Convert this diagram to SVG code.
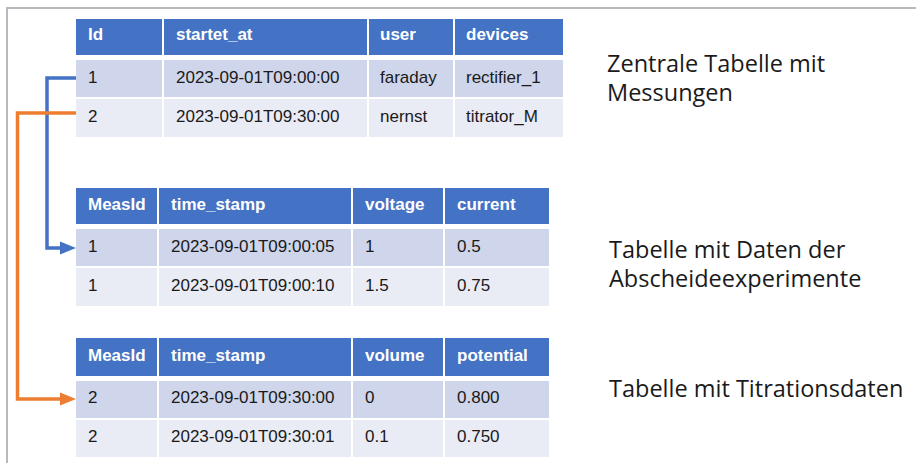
<svg xmlns="http://www.w3.org/2000/svg" width="916" height="463" viewBox="0 0 916 463">
  <defs>
    <style>
      .hd { fill: #4472c4; }
      .r1 { fill: #cfd5ea; }
      .r2 { fill: #e9ebf5; }
      .ht { font-family: "Liberation Sans", Arial, sans-serif; font-size: 17px; font-weight: bold; fill: #ffffff; }
      .dt { font-family: "Liberation Sans", Arial, sans-serif; font-size: 17px; fill: #1a1a1a; }
      .lbl { font-family: "Open Sans", "Noto Sans", sans-serif; font-size: 23.5px; fill: #1a1a1a; }
      .frame { fill: none; stroke: #b6babe; stroke-width: 2; }
      .link { fill: none; stroke-width: 3.5; stroke-linejoin: miter; }
    </style>
  </defs>

  <rect width="916" height="463" fill="#ffffff"/>
  <!-- outer frame: top and left edges -->
  <path class="frame" d="M7,463 L7,8 L916,8"/>

  <!-- central measurement table -->
  <g id="table-measurements">
    <rect class="hd" x="76" y="19" width="86" height="36"/>
    <rect class="hd" x="164" y="19" width="203" height="36"/>
    <rect class="hd" x="369" y="19" width="84" height="36"/>
    <rect class="hd" x="455" y="19" width="108" height="36"/>
    <rect class="r1" x="76" y="60" width="86" height="37"/>
    <rect class="r1" x="164" y="60" width="203" height="37"/>
    <rect class="r1" x="369" y="60" width="84" height="37"/>
    <rect class="r1" x="455" y="60" width="108" height="37"/>
    <rect class="r2" x="76" y="99" width="86" height="38"/>
    <rect class="r2" x="164" y="99" width="203" height="38"/>
    <rect class="r2" x="369" y="99" width="84" height="38"/>
    <rect class="r2" x="455" y="99" width="108" height="38"/>
    <text class="ht" x="88" y="40">Id</text>
    <text class="ht" x="176" y="40">startet_at</text>
    <text class="ht" x="380" y="40">user</text>
    <text class="ht" x="466" y="40">devices</text>
    <text class="dt" x="88" y="83">1</text>
    <text class="dt" x="176" y="83">2023-09-01T09:00:00</text>
    <text class="dt" x="380" y="83">faraday</text>
    <text class="dt" x="466" y="83">rectifier_1</text>
    <text class="dt" x="88" y="122">2</text>
    <text class="dt" x="176" y="122">2023-09-01T09:30:00</text>
    <text class="dt" x="380" y="122">nernst</text>
    <text class="dt" x="466" y="122">titrator_M</text>
  </g>

  <!-- deposition experiment data -->
  <g id="table-deposition">
    <rect class="hd" x="76" y="188" width="81" height="36"/>
    <rect class="hd" x="159" y="188" width="192" height="36"/>
    <rect class="hd" x="353" y="188" width="90" height="36"/>
    <rect class="hd" x="445" y="188" width="104" height="36"/>
    <rect class="r1" x="76" y="229" width="81" height="37"/>
    <rect class="r1" x="159" y="229" width="192" height="37"/>
    <rect class="r1" x="353" y="229" width="90" height="37"/>
    <rect class="r1" x="445" y="229" width="104" height="37"/>
    <rect class="r2" x="76" y="268" width="81" height="38"/>
    <rect class="r2" x="159" y="268" width="192" height="38"/>
    <rect class="r2" x="353" y="268" width="90" height="38"/>
    <rect class="r2" x="445" y="268" width="104" height="38"/>
    <text class="ht" x="88" y="210">MeasId</text>
    <text class="ht" x="171" y="210">time_stamp</text>
    <text class="ht" x="365" y="210">voltage</text>
    <text class="ht" x="457" y="210">current</text>
    <text class="dt" x="88" y="252">1</text>
    <text class="dt" x="171" y="252">2023-09-01T09:00:05</text>
    <text class="dt" x="365" y="252">1</text>
    <text class="dt" x="457" y="252">0.5</text>
    <text class="dt" x="88" y="291">1</text>
    <text class="dt" x="171" y="291">2023-09-01T09:00:10</text>
    <text class="dt" x="365" y="291">1.5</text>
    <text class="dt" x="457" y="291">0.75</text>
  </g>

  <!-- titration data -->
  <g id="table-titration">
    <rect class="hd" x="76" y="338" width="81" height="38"/>
    <rect class="hd" x="159" y="338" width="192" height="38"/>
    <rect class="hd" x="353" y="338" width="90" height="38"/>
    <rect class="hd" x="445" y="338" width="104" height="38"/>
    <rect class="r1" x="76" y="381" width="81" height="37"/>
    <rect class="r1" x="159" y="381" width="192" height="37"/>
    <rect class="r1" x="353" y="381" width="90" height="37"/>
    <rect class="r1" x="445" y="381" width="104" height="37"/>
    <rect class="r2" x="76" y="420" width="81" height="37"/>
    <rect class="r2" x="159" y="420" width="192" height="37"/>
    <rect class="r2" x="353" y="420" width="90" height="37"/>
    <rect class="r2" x="445" y="420" width="104" height="37"/>
    <text class="ht" x="88" y="361">MeasId</text>
    <text class="ht" x="171" y="361">time_stamp</text>
    <text class="ht" x="365" y="361">volume</text>
    <text class="ht" x="457" y="361">potential</text>
    <text class="dt" x="88" y="403">2</text>
    <text class="dt" x="171" y="403">2023-09-01T09:30:00</text>
    <text class="dt" x="365" y="403">0</text>
    <text class="dt" x="457" y="403">0.800</text>
    <text class="dt" x="88" y="442">2</text>
    <text class="dt" x="171" y="442">2023-09-01T09:30:01</text>
    <text class="dt" x="365" y="442">0.1</text>
    <text class="dt" x="457" y="442">0.750</text>
  </g>

  <!-- foreign-key links from the central table -->
  <g id="connectors">
    <path class="link" stroke="#4472c4" d="M76,78 L47,78 L47,248 L64,248"/>
    <path class="link" stroke="#ed7d31" d="M76,113 L17.5,113 L17.5,399 L64,399"/>
    <path d="M60,241.5 L76,248 L60,254.5 z" fill="#4472c4"/>
    <path d="M60,392.5 L76,399 L60,405.5 z" fill="#ed7d31"/>
  </g>

  <!-- table descriptions -->
  <g id="labels">
    <text class="lbl" x="607" y="72">Zentrale Tabelle mit<tspan x="607" dy="29">Messungen</tspan></text>
    <text class="lbl" x="609" y="258">Tabelle mit Daten der<tspan x="609" dy="29">Abscheideexperimente</tspan></text>
    <text class="lbl" x="609" y="397">Tabelle mit Titrationsdaten</text>
  </g>
</svg>
